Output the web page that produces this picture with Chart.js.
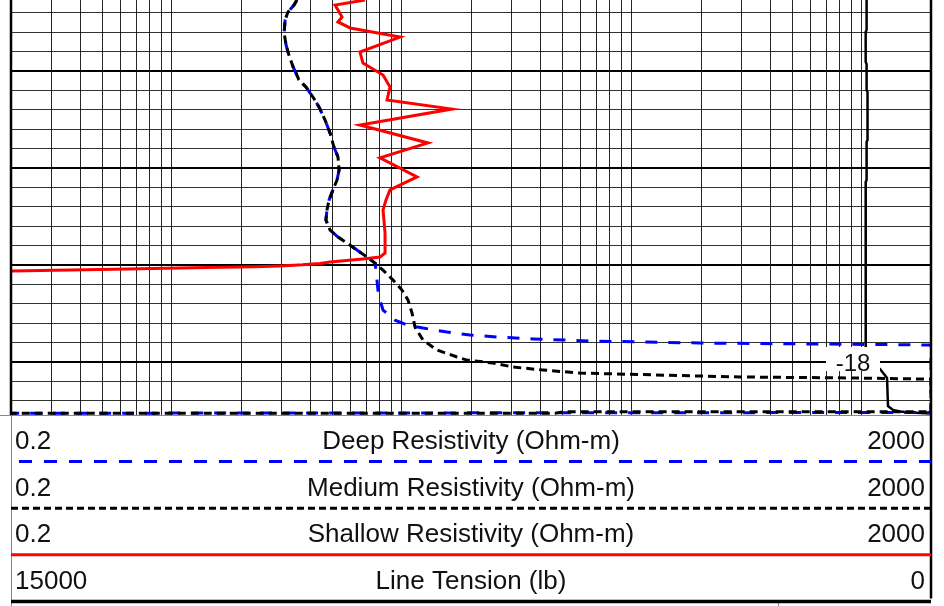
<!DOCTYPE html>
<html>
<head>
<meta charset="utf-8">
<script src="https://cdn.jsdelivr.net/npm/chart.js@4.4.1/dist/chart.umd.min.js"></script>
<style>
  html, body { margin: 0; padding: 0; background: #fff; }
  #wrap { width: 944px; height: 606px; }
</style>
</head>
<body>
<div id="wrap"><canvas id="logChart" width="944" height="606"></canvas></div>
<script>
// Resistivity curves (Ohm-m) against elevation
const deepRes = [3.50, 3.40, 3.20, 3.11, 3.08, 3.14, 3.23, 3.37, 3.50, 3.57, 3.83, 4.11, 4.37, 4.64, 4.88, 5.07, 5.28, 5.34, 5.23, 5.02, 4.83, 4.73, 4.68, 4.88, 5.28, 5.78, 6.39, 7.06, 7.65,
  7.73, 7.80, 7.88, 8.04, 8.29, 9.35, 10.54, 12.37, 15.73, 19.8, 25.9, 37.2, 67.8, 198, 2000, 2000, 0.2];
const deepElev = [0.66, 0.40, 0.04, -0.37, -1.04, -1.66, -2.18, -2.79, -3.21, -3.46, -3.82, -4.34, -4.86, -5.53, -6.20, -6.92, -7.43, -8.10, -8.62, -9.13, -9.65, -10.16, -10.68, -11.20, -11.56, -11.87, -12.23, -12.59, -12.90,
  -13.26, -13.77, -14.29, -14.80, -15.32, -15.84, -16.09, -16.25, -16.45, -16.61, -16.71, -16.81, -16.92, -17.02, -17.12, -20.60, -20.64];

const mediumRes = [3.50, 3.40, 3.20, 3.11, 3.08, 3.14, 3.23, 3.37, 3.50, 3.57, 3.83, 4.11, 4.37, 4.64, 4.88, 5.07, 5.28, 5.34, 5.23, 5.02, 4.83, 4.73, 4.68, 4.88, 5.28, 5.78, 6.39, 7.06, 7.65,
  8.29, 9.16, 10.02, 10.64, 11.08, 11.42, 12.37, 14.23, 17.39, 19.21, 24.9, 30.5, 41.1, 59.6, 198, 295, 889, 2000, 2000, 51.2, 46.4, 0.2];
const mediumElev = [0.66, 0.40, 0.04, -0.37, -1.04, -1.66, -2.18, -2.79, -3.21, -3.46, -3.82, -4.34, -4.86, -5.53, -6.20, -6.92, -7.43, -8.10, -8.62, -9.13, -9.65, -10.16, -10.68, -11.20, -11.56, -11.87, -12.23, -12.59, -12.90,
  -13.26, -13.77, -14.29, -14.80, -15.47, -16.20, -16.87, -17.38, -17.74, -17.90, -18.05, -18.26, -18.41, -18.57, -18.72, -18.77, -18.82, -18.88, -20.56, -20.56, -20.64, -20.64];

const shallowRes = [6.92, 5.13, 5.50, 5.28, 5.96, 9.83, 6.58, 6.78, 8.29, 8.89, 8.63, 16.5, 6.58, 13.0, 8.04, 11.65, 8.89, 8.54, 8.29, 8.46, 8.46, 8.04, 6.78, 4.88, 4.41, 3.70, 2.95, 2.30, 1.42, 0.49, 0.2];
const shallowElev = [0.66, 0.40, -0.22, -0.47, -0.78, -1.25, -2.02, -2.59, -3.21, -3.82, -4.49, -4.96, -5.78, -6.71, -7.48, -8.46, -9.13, -9.65, -10.16, -11.35, -12.38, -12.59, -12.69, -12.85, -12.92, -12.99, -13.05, -13.09, -13.13, -13.23, -13.31];

// Line tension (lb)
const tension = [1050, 1050, 1065, 1065, 1050, 1050, 1035, 1035, 1050, 1050, 1065, 1065, 1068, 1060, 1000, 830, 717, 701, 620, 505, 340, 0];
const tensionElev = [0.66, -0.89, -0.99, -2.54, -2.64, -3.98, -4.08, -6.56, -6.66, -8.62, -8.72, -14.03, -17.12, -17.38, -17.90, -18.36, -18.82, -20.27, -20.47, -20.55, -20.60, -20.65];

// Track scales and header rows
const resRange = [0.2, 2000];
const tensionRange = [15000, 0];
const elevRange = [-20.73, 0.66];
const elevLines = [-20, -19, -18, -17, -16, -15, -14, -13, -12, -11, -10, -9, -8, -7, -6, -5, -4, -3, -2, -1, 0];
const depthMark = -18;
const curveNames = ['Deep Resistivity (Ohm-m)', 'Medium Resistivity (Ohm-m)', 'Shallow Resistivity (Ohm-m)', 'Line Tension (lb)'];
const leftLabels = ['0.2', '0.2', '0.2', '15000'];
const rightLabels = ['2000', '2000', '2000', '0'];

const FONT = '"Liberation Sans", Arial, sans-serif';

function pairs(xs, ys) {
  return xs.map((v, i) => ({ x: v, y: ys[i] }));
}

const trackFrame = {
  id: 'trackFrame',
  afterDatasetsDraw(chart) {
    const { ctx, chartArea: a, scales } = chart;
    ctx.save();
    // frame of the plot track
    ctx.strokeStyle = '#000';
    ctx.lineWidth = 2.5;
    ctx.beginPath();
    ctx.moveTo(a.left, 0);
    ctx.lineTo(a.left, a.bottom);
    ctx.stroke();

    // depth label on the heavy line
    const ym = scales.y.getPixelForValue(depthMark);
    ctx.fillStyle = '#fff';
    ctx.fillRect(a.right - 105, ym - 15, 54, 24);
    ctx.fillStyle = '#111';
    ctx.font = '24px ' + FONT;
    ctx.textAlign = 'center';
    ctx.textBaseline = 'alphabetic';
    ctx.fillText(String(depthMark), a.right - 78, ym + 9);
    ctx.restore();
  },
  afterDraw(chart) {
    const { ctx, chartArea: a } = chart;
    const rowH = 46.6;
    const mid = (a.left + a.right) / 2;
    ctx.save();

    // header box outline
    ctx.strokeStyle = '#888';
    ctx.lineWidth = 1;
    ctx.beginPath();
    ctx.moveTo(0, a.bottom + 0.5);
    ctx.lineTo(a.right, a.bottom + 0.5);
    ctx.moveTo(a.left + 0.5, a.bottom);
    ctx.lineTo(a.left + 0.5, 606);
    ctx.moveTo(778.5, a.bottom + rowH * 4 + 1);
    ctx.lineTo(778.5, 606);
    ctx.stroke();

    ctx.strokeStyle = '#000';
    ctx.lineWidth = 2.5;
    ctx.beginPath();
    ctx.moveTo(a.right, 0);
    ctx.lineTo(a.right, a.bottom + rowH * 4 - 3);
    ctx.stroke();

    const styles = [
      { color: '#0000ff', dash: [13, 12], width: 3, from: a.left + 8 },
      { color: '#000', dash: [7, 4], width: 3, from: a.left },
      { color: '#ff0000', dash: [], width: 3, from: a.left },
      { color: '#000', dash: [], width: 3.5, from: a.left }
    ];

    ctx.font = '26px ' + FONT;
    ctx.textBaseline = 'alphabetic';
    curveNames.forEach((name, i) => {
      const sep = a.bottom + rowH * (i + 1);
      const base = sep - 12.5;
      ctx.fillStyle = '#111';
      ctx.textAlign = 'left';
      ctx.fillText(leftLabels[i], a.left + 4, base);
      ctx.textAlign = 'center';
      ctx.fillText(name, mid, base);
      ctx.textAlign = 'right';
      ctx.fillText(rightLabels[i], a.right - 6, base);

      const s = styles[i];
      ctx.strokeStyle = s.color;
      ctx.lineWidth = s.width;
      ctx.setLineDash(s.dash);
      ctx.beginPath();
      ctx.moveTo(s.from, sep);
      ctx.lineTo(a.right, sep);
      ctx.stroke();
      ctx.setLineDash([]);
    });
    ctx.restore();
  }
};

const ctx = document.getElementById('logChart').getContext('2d');
const logChart = new Chart(ctx, {
  type: 'scatter',
  data: {
    datasets: [
      {
        label: curveNames[1],
        data: pairs(mediumRes, mediumElev),
        xAxisID: 'res',
        borderColor: '#000',
        borderWidth: 3,
        borderDash: [8, 5],
        showLine: true,
        pointRadius: 0,
        order: 0
      },
      {
        label: curveNames[0],
        data: pairs(deepRes, deepElev),
        xAxisID: 'res',
        borderColor: '#0000ff',
        borderWidth: 3,
        borderDash: [12, 11],
        showLine: true,
        pointRadius: 0,
        order: 1
      },
      {
        label: curveNames[2],
        data: pairs(shallowRes, shallowElev),
        xAxisID: 'res',
        borderColor: '#ff0000',
        borderWidth: 3,
        showLine: true,
        pointRadius: 0,
        order: 2
      },
      {
        label: curveNames[3],
        data: pairs(tension, tensionElev),
        xAxisID: 'tension',
        borderColor: '#000',
        borderWidth: 2.5,
        showLine: true,
        pointRadius: 0,
        order: 3
      }
    ]
  },
  options: {
    responsive: false,
    animation: false,
    devicePixelRatio: 1,
    layout: { padding: { left: 11, right: 13, top: 0, bottom: 191 } },
    plugins: {
      legend: { display: false },
      tooltip: { enabled: false }
    },
    scales: {
      res: {
        type: 'logarithmic',
        position: 'bottom',
        min: resRange[0],
        max: resRange[1],
        ticks: { display: false },
        border: { display: false },
        grid: { color: 'rgba(0,0,0,0.85)', lineWidth: 1, drawTicks: false },
        afterBuildTicks(scale) {
          // 1..9 per decade across the track
          const ticks = [];
          for (let e = -1; e <= 3; e++) {
            for (let m = 1; m <= 9; m++) {
              const v = m * Math.pow(10, e);
              if (v >= resRange[0] - 1e-9 && v <= resRange[1] + 1e-9) ticks.push({ value: v });
            }
          }
          scale.ticks = ticks;
        }
      },
      tension: {
        type: 'linear',
        position: 'top',
        display: false,
        min: tensionRange[1],
        max: tensionRange[0],
        reverse: true
      },
      y: {
        type: 'linear',
        min: elevRange[0],
        max: elevRange[1],
        ticks: { display: false },
        border: { display: false },
        grid: {
          drawTicks: false,
          color: c => ((c.tick.value - depthMark) % 5 === 0 ? '#000' : 'rgba(0,0,0,0.8)'),
          lineWidth: c => ((c.tick.value - depthMark) % 5 === 0 ? 2 : 1)
        },
        afterBuildTicks(scale) {
          scale.ticks = elevLines.map(v => ({ value: v }));
        }
      }
    }
  },
  plugins: [trackFrame]
});
</script>
</body>
</html>
